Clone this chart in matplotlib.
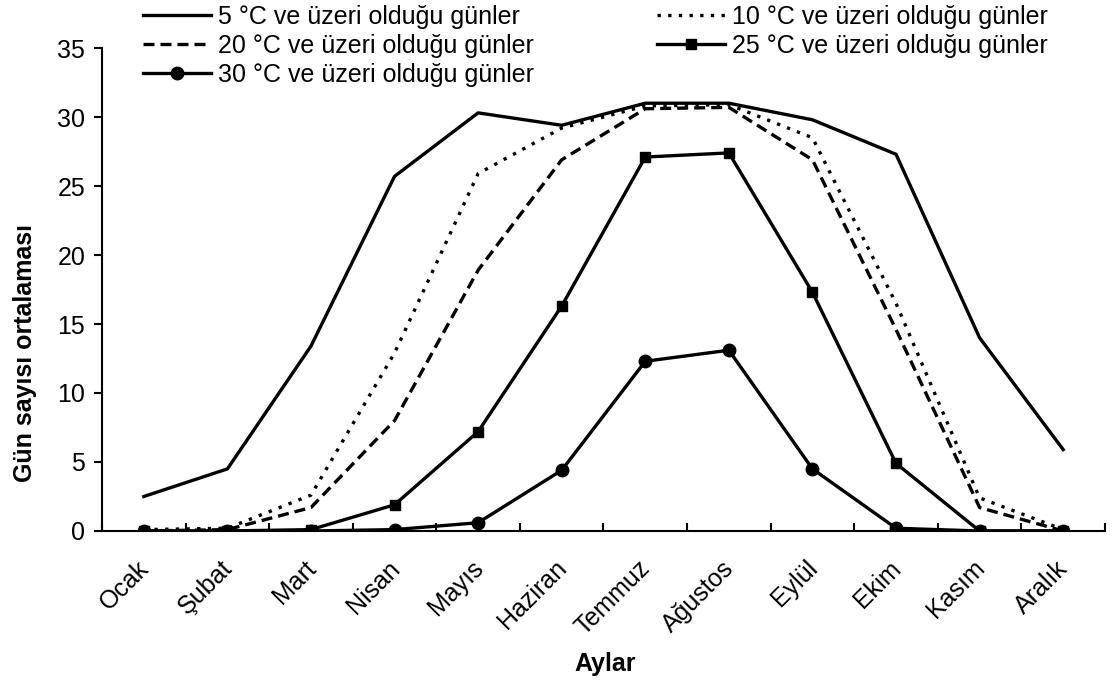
import numpy as np
import matplotlib.pyplot as plt
import matplotlib.transforms as mtransforms

plt.rcParams['font.family'] = ['Liberation Sans', 'DejaVu Sans']

aylar = ['Ocak', 'Şubat', 'Mart', 'Nisan', 'Mayıs', 'Haziran',
         'Temmuz', 'Ağustos', 'Eylül', 'Ekim', 'Kasım', 'Aralık']

gun_5 = [2.5, 4.5, 13.4, 25.7, 30.3, 29.4, 31.0, 31.0, 29.8, 27.3, 14.0, 5.9]
gun_10 = [0.1, 0.2, 2.6, 12.9, 25.9, 29.2, 30.8, 30.9, 28.5, 16.5, 2.4, 0.1]
gun_20 = [0.0, 0.1, 1.7, 8.0, 18.9, 26.9, 30.6, 30.7, 26.9, 14.6, 1.7, 0.0]
gun_25 = [0.0, 0.0, 0.1, 1.9, 7.2, 16.3, 27.1, 27.4, 17.3, 4.9, 0.0, 0.0]
gun_30 = [0.0, 0.0, 0.0, 0.1, 0.6, 4.4, 12.3, 13.1, 4.5, 0.2, 0.0, 0.0]

etiketler = ['5 °C ve üzeri olduğu günler', '10 °C ve üzeri olduğu günler',
             '20 °C ve üzeri olduğu günler', '25 °C ve üzeri olduğu günler',
             '30 °C ve üzeri olduğu günler']

x = np.arange(len(aylar))
fs = 18

fig = plt.figure(figsize=(11.15, 6.84), dpi=100)
ax = fig.add_axes([0.0915, 0.2237, 0.8995, 0.7061])

lw = 2.4
l5, = ax.plot(x, gun_5, color='k', lw=lw, label=etiketler[0])
l10, = ax.plot(x, gun_10, color='k', lw=lw, ls=(0, (1, 2.2)), label=etiketler[1])
l20, = ax.plot(x, gun_20, color='k', lw=lw, ls=(0, (3.3, 1.8)), label=etiketler[2])
l25, = ax.plot(x, gun_25, color='k', lw=lw, marker='s', ms=7.5, label=etiketler[3])
l30, = ax.plot(x, gun_30, color='k', lw=lw, marker='o', ms=9, label=etiketler[4])

ax.set_xlim(-0.5, 11.5)
ax.set_ylim(0, 35)
ax.set_yticks(range(0, 36, 5))
ax.set_xticks(x)
ax.set_xticklabels(aylar, rotation=45, ha='right', rotation_mode='anchor', fontsize=fs)
ax.tick_params(axis='y', labelsize=fs, direction='out', length=6, width=1.5, pad=6)
ax.tick_params(axis='x', which='major', length=0, pad=18)
ax.set_xticks(np.arange(-0.5, 12, 1), minor=True)
ax.tick_params(axis='x', which='minor', direction='in', length=6, width=1.5)

# etiketleri biraz sola kaydır
kayma = mtransforms.ScaledTranslation(-7 / 100, 0, fig.dpi_scale_trans)
for lab in ax.get_xticklabels():
    lab.set_transform(lab.get_transform() + kayma)

for s in ['top', 'right']:
    ax.spines[s].set_visible(False)
for s in ['left', 'bottom']:
    ax.spines[s].set_linewidth(1.5)

ax.set_xlabel('Aylar', fontsize=fs, fontweight='bold', va='center')
ax.xaxis.set_label_coords(0.5015, -0.275)
ax.set_ylabel('Gün sayısı ortalaması', fontsize=fs, fontweight='bold', va='center')
ax.yaxis.set_label_coords(-0.077, 0.369)

h = [l5, l20, l30, l10, l25]
leg = fig.legend(handles=h, labels=[l.get_label() for l in h], ncol=2,
                 loc='upper left', bbox_to_anchor=(143 / 1115, 0.993),
                 frameon=False, fontsize=fs, handlelength=2.72,
                 handletextpad=0.28, columnspacing=4.9, labelspacing=0.2,
                 borderpad=0, borderaxespad=0)

fig.savefig('out.png', dpi=100)
